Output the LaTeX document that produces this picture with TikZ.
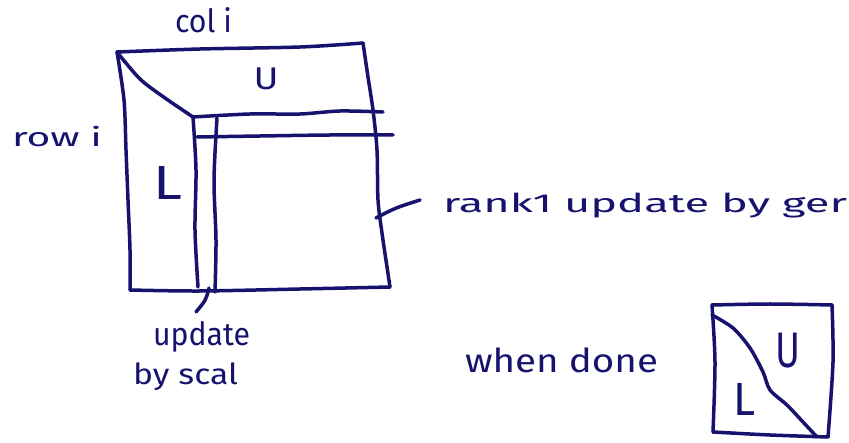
\documentclass[tikz,border=0pt]{standalone}
\usepackage{fontspec}
\setmainfont{Fira Sans}
\usepackage{graphicx}
\definecolor{ink}{RGB}{22,18,110}
% text at a given font size, stretched to a given width
\newcommand{\hwline}[3]{\resizebox{#1pt}{\height}{\fontsize{#2pt}{#2pt}\selectfont #3}}
\newcommand{\hwtext}[3]{\resizebox*{#1pt}{#2pt}{#3}}
\begin{document}
\begin{tikzpicture}[x=1pt,y=-1pt,
  pen/.style={draw=ink,line width=3.5pt,line cap=round,line join=round},
  lbl/.style={inner sep=0pt,outer sep=0pt,text=ink,anchor=center},
  txt/.style={inner sep=0pt,outer sep=0pt,text=ink,anchor=base west}]
\useasboundingbox (0,0) rectangle (849,443);

% ---- main matrix corners ----
\coordinate (tl) at (117,52);
\coordinate (tr) at (363,43);
\coordinate (br) at (390,287);
\coordinate (bl) at (130,290);
\coordinate (piv) at (193,117);

\draw[pen] plot[smooth] coordinates {(tl) (200,49) (300,47) (tr)};
\draw[pen] plot[smooth] coordinates {(tr) (368,77) (373,110) (377,150) (378,200) (382,233) (387,267) (br)};
\draw[pen] plot[smooth] coordinates {(br) (300,289) (200,291) (bl)};
\draw[pen] plot[smooth] coordinates {(bl) (130,250) (128,200) (126,150) (124,100) (tl)};

% diagonal to pivot
\draw[pen] plot[smooth] coordinates {(tl) (140,79) (165,98) (piv)};

% row i strip
\draw[pen] plot[smooth] coordinates {(piv) (250,114) (300,114) (340,111) (383,112)};
\draw[pen] plot[smooth] coordinates {(197,137) (260,136) (330,135) (393,135)};

% column i strip
\draw[pen] plot[smooth] coordinates {(piv) (196,170) (195,230) (198,287)};
\draw[pen] plot[smooth] coordinates {(217,118) (214,180) (216,240) (215,292)};

% ---- labels ----
\node[txt] (coli) at (175,33) {\hwline{57}{32}{col i}};
\node[txt] (rowi) at (12,147) {\hwline{90}{26}{row i}};
\node[lbl] (U1) at (266,79) {\hwtext{25}{22}{U}};
\node[lbl] (L1) at (168,183) {\hwtext{29}{33}{L}};
\node[txt] (rank) at (443,213) {\hwline{404}{26}{rank1 update by ger}};
\node[txt] (upd) at (153,346) {\hwline{97}{32}{update}};
\node[txt] (scal) at (133,385) {\hwline{105}{29}{by scal}};
\node[txt] (done) at (465,373) {\hwline{193}{33}{when done}};

% pointers
\coordinate (rankTip) at (376,218);
\coordinate (rankTail) at (420,200);
\draw[pen] (rankTip) .. controls (395,208) .. (rankTail);
\coordinate (updTip) at (209,288);
\coordinate (updTail) at (196,312);
\draw[pen] (updTip) .. controls (206,300) .. (updTail);

% ---- small matrix when done ----
\coordinate (stl) at (712,305);
\coordinate (str) at (832,305);
\coordinate (sbr) at (828,437);
\coordinate (sbl) at (713,432);
\draw[pen] plot[smooth] coordinates {(stl) (770,304) (str)};
\draw[pen] plot[smooth] coordinates {(str) (833,362) (sbr)};
\draw[pen] plot[smooth] coordinates {(sbr) (770,435) (sbl)};
\draw[pen] plot[smooth] coordinates {(sbl) (715,362) (stl)};
\draw[pen] plot[smooth] coordinates {(712,315) (733,328) (750,348) (763,372) (770,390) (787,405) (803,422) (817,437)};
\node[lbl] (U2) at (787.5,350.5) {\hwtext{25}{35}{U}};
\node[lbl] (L2) at (744,399) {\hwtext{22}{32}{L}};
\end{tikzpicture}
\end{document}
